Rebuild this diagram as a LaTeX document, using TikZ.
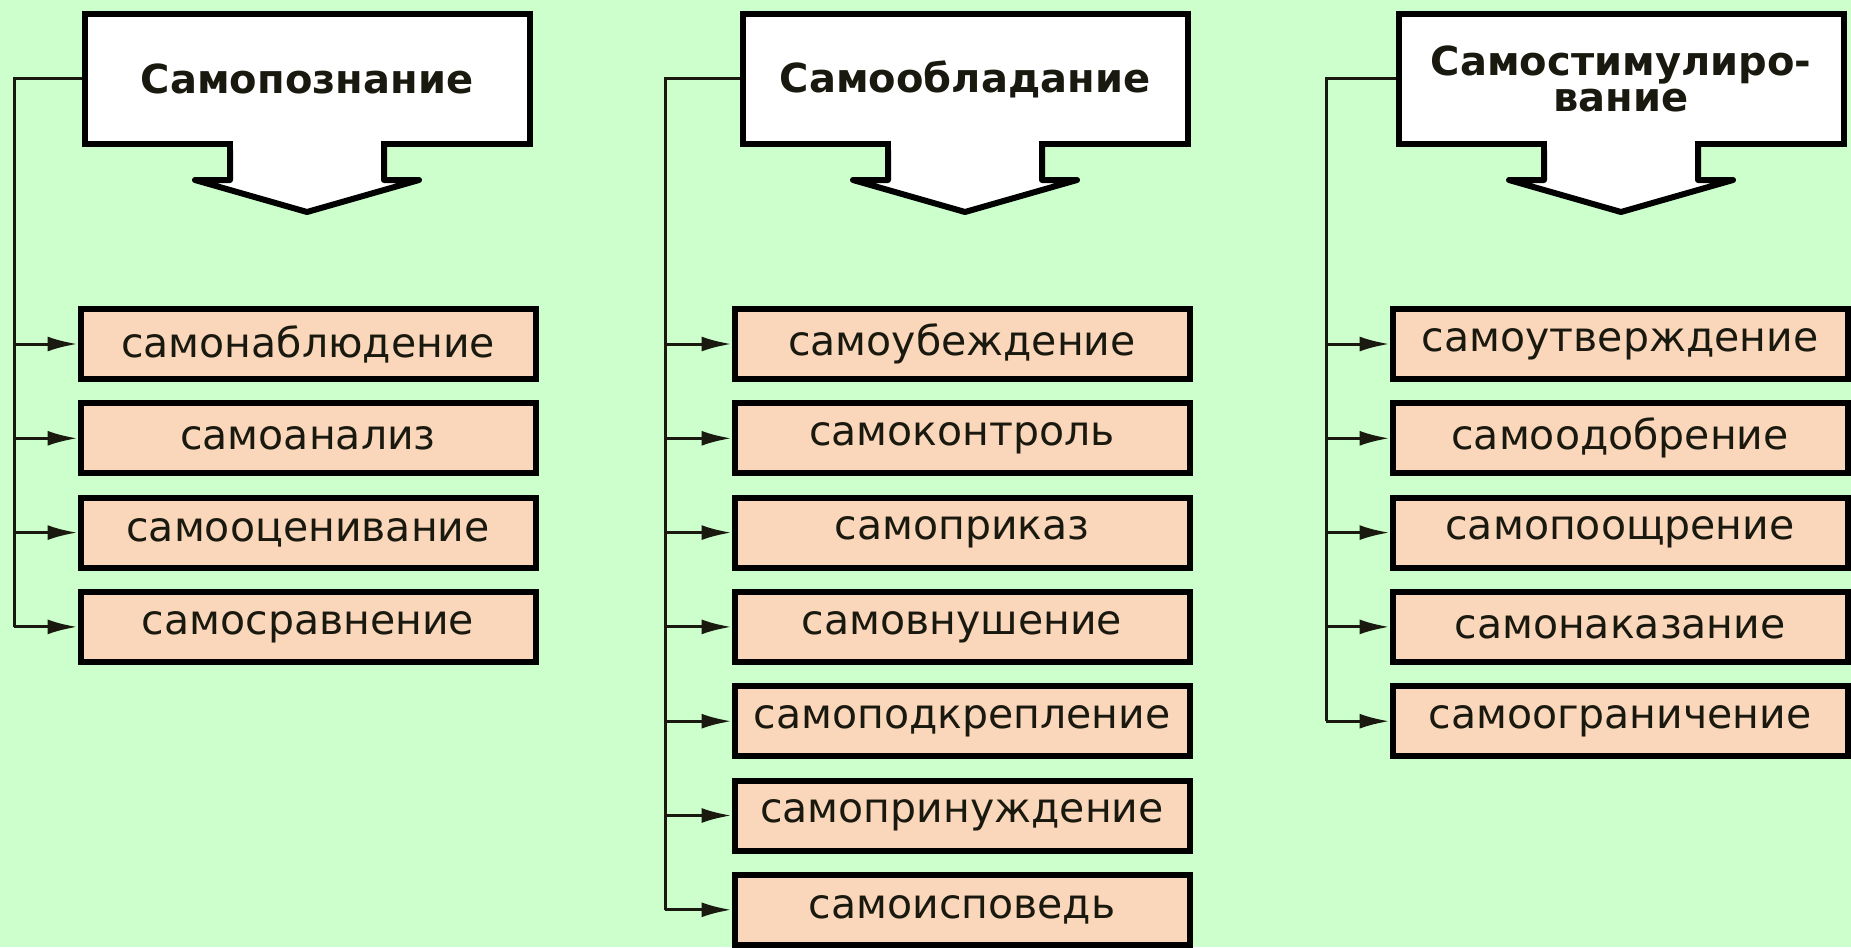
\documentclass[tikz,border=0pt]{standalone}
\usepackage{fontspec}
\setmainfont{DejaVu Sans}
\usetikzlibrary{arrows.meta}
\definecolor{bg}{RGB}{204,255,204}
\definecolor{peach}{RGB}{250,214,186}
\definecolor{ink}{RGB}{25,25,15}

\begin{document}
\begin{tikzpicture}[x=1pt, y=-1pt,
	head/.style={draw=black, fill=white, line width=6pt, minimum width=445pt, minimum height=130pt, inner sep=0pt, align=center, text=ink, font=\fontsize{40}{36}\selectfont\bfseries},
	item/.style={draw=black, fill=peach, line width=6pt, minimum width=455pt, minimum height=70pt, inner sep=0pt, text=ink, font=\fontsize{41}{48}\selectfont},
	link/.style={line width=3pt, draw=ink},
	tip/.style={-{Latex[length=30pt, width=15pt]}}]
		\path[use as bounding box, fill=bg] (0,0) rectangle (1851,947);
		
		% headers with their arrows
		\foreach \n/\x/\txt in {1/307/Самопознание, 2/965/Самообладание, 3/1621/{Самостимулиро-\\вание}}{
			\node[head] (h\n) at (\x, 79) {\txt};
			\draw[line width=6pt, line join=round, fill=white] (\x-77,144) -- (\x-77,180) -- (\x-112,180) -- (\x,212) -- (\x+112,180) -- (\x+77,180) -- (\x+77,144);
			\fill[white] (\x-74,140) rectangle (\x+74,150);
		}
		
		% Самопознание
		\foreach \i/\txt in {0/самонаблюдение, 1/самоанализ, 2/самооценивание, 3/самосравнение}
			\node[item] (a\i) at (308, 344+94.3*\i) {\txt};
		
		% Самообладание
		\foreach \i/\txt in {0/самоубеждение, 1/самоконтроль, 2/самоприказ, 3/самовнушение, 4/самоподкрепление, 5/самопринуждение, 6/самоисповедь}
			\node[item] (b\i) at (962, 344+94.3*\i) {\txt};
		
		% Самостимулирование
		\foreach \i/\txt in {0/самоутверждение, 1/самоодобрение, 2/самопоощрение, 3/самонаказание, 4/самоограничение}
			\node[item] (c\i) at (1620, 344+94.3*\i) {\txt};
		
		% trunks
		\coordinate (t1) at (14, 79);
		\coordinate (t2) at (665, 79);
		\coordinate (t3) at (1326, 79);
		\draw[link] (h1.west) -- (t1) -- (t1 |- a3);
		\draw[link] (h2.west) -- (t2) -- (t2 |- b6);
		\draw[link] (h3.west) -- (t3) -- (t3 |- c4);
		
		% branches
		\foreach \i in {0, 1, ..., 3}
			\draw[link, tip] (t1 |- a\i) -- (a\i.west);
		\foreach \i in {0, 1, ..., 6}
			\draw[link, tip] (t2 |- b\i) -- (b\i.west);
		\foreach \i in {0, 1, ..., 4}
			\draw[link, tip] (t3 |- c\i) -- (c\i.west);
\end{tikzpicture}
\end{document}
